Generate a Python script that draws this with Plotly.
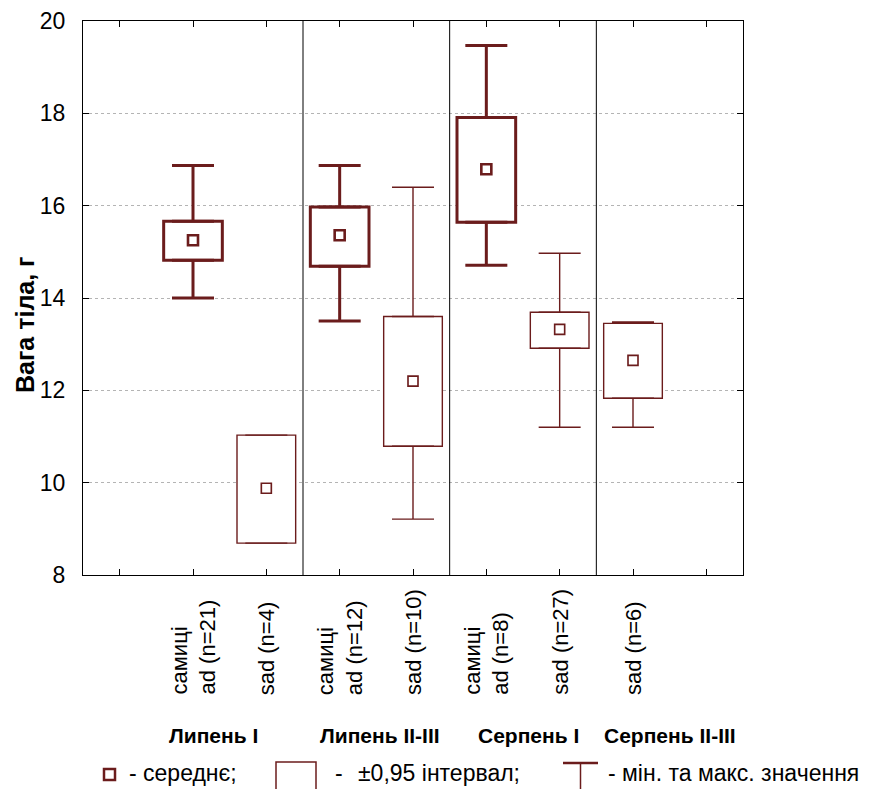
import plotly.graph_objects as go

# ---------------- data ----------------
group_labels = ["самиці<br>ad (n=21)", "sad (n=4)", "самиці<br>ad (n=12)", "sad (n=10)",
                "самиці<br>ad (n=8)", "sad (n=27)", "sad (n=6)"]
age_class = ["ad", "sad", "ad", "sad", "ad", "sad", "sad"]
means = [15.25, 9.88, 15.36, 12.20, 16.79, 13.32, 12.65]
ci_low = [14.82, 8.69, 14.69, 10.79, 15.64, 12.91, 11.83]
ci_high = [15.66, 11.03, 15.97, 13.60, 17.91, 13.69, 13.45]
mins = [14.00, None, 13.50, 9.21, 14.71, 11.20, 11.20]
maxs = [16.87, None, 16.87, 16.40, 19.47, 14.97, 13.48]
months = ["Липень I", "Липень II-III", "Серпень I", "Серпень II-III"]
month_group_counts = [2, 2, 2, 1]
y_title = "Вага тіла, г"

# ---------------- style ----------------
COLOR = "#6b1c1c"
FONT = "Liberation Sans, Arial, sans-serif"
W, H = 883, 789
ML, MR, MT, MB = 83, 140, 21, 214
PW, PH = W - ML - MR, H - MT - MB
BOX_W = 0.80
CAP_PX = 21
month_x = [1.28, 3.55, 5.58, 7.5]
LEG_FS = 23

positions = [i + 1 for i in range(len(group_labels))]
n_slots = len(group_labels) + 2


def px_x(p):
    return (p - ML) / PW


def px_y(p):
    return (H - MB - p) / PH


fig = go.Figure()

for cls, lw in (("ad", 3), ("sad", 1.4)):
    idx = [i for i, a in enumerate(age_class) if a == cls]
    xs = [positions[i] for i in idx]
    # CI boxes
    fig.add_trace(go.Bar(
        x=xs, base=[ci_low[i] for i in idx],
        y=[ci_high[i] - ci_low[i] for i in idx],
        width=BOX_W, marker=dict(color="rgba(255,255,255,1)", line=dict(color=COLOR, width=lw)),
        showlegend=False, hoverinfo="skip"))
    # upper whiskers (from box top to max)
    fig.add_trace(go.Scatter(
        x=xs, y=[ci_high[i] for i in idx], mode="markers",
        marker=dict(size=1, color="rgba(0,0,0,0)"),
        error_y=dict(type="data", symmetric=False,
                     array=[(maxs[i] - ci_high[i]) if maxs[i] is not None else None for i in idx],
                     arrayminus=[0 if maxs[i] is not None else None for i in idx],
                     color=COLOR, thickness=lw, width=CAP_PX),
        showlegend=False, hoverinfo="skip"))
    # lower whiskers (from box bottom to min)
    fig.add_trace(go.Scatter(
        x=xs, y=[ci_low[i] for i in idx], mode="markers",
        marker=dict(size=1, color="rgba(0,0,0,0)"),
        error_y=dict(type="data", symmetric=False,
                     array=[0 if mins[i] is not None else None for i in idx],
                     arrayminus=[(ci_low[i] - mins[i]) if mins[i] is not None else None for i in idx],
                     color=COLOR, thickness=lw, width=CAP_PX),
        showlegend=False, hoverinfo="skip"))
    # means
    fig.add_trace(go.Scatter(
        x=xs, y=[means[i] for i in idx], mode="markers",
        marker=dict(symbol="square-open", size=10, color=COLOR, line=dict(width=lw * 0.6 + 0.8)),
        showlegend=False, hoverinfo="skip"))

# section dividers between months
bounds = []
acc = 0
for c in month_group_counts[:-1]:
    acc += c
    bounds.append(acc + 0.5)
for b in bounds:
    fig.add_shape(type="line", xref="x", yref="paper", x0=b, x1=b, y0=0, y1=1,
                  line=dict(color="black", width=1))

# category labels (rotated, lines aligned at their start)
for lab, pos in zip(group_labels, positions):
    fig.add_annotation(x=pos, xref="x", y=px_y(697), yref="paper", text=lab,
                       textangle=-90, align="left", showarrow=False,
                       xanchor="center", yanchor="bottom",
                       font=dict(family=FONT, size=22, color="black"))

# month labels
for m, mx in zip(months, month_x):
    fig.add_annotation(x=mx, xref="x", y=px_y(735), yref="paper", text="<b>" + m + "</b>",
                       showarrow=False, font=dict(family=FONT, size=21, color="black"),
                       xanchor="center", yanchor="middle")

# y-axis title
fig.add_annotation(x=px_x(25), y=px_y(325), xref="paper", yref="paper",
                   text="<b>" + y_title + "</b>", textangle=-90, showarrow=False,
                   xanchor="center", yanchor="middle",
                   font=dict(family=FONT, size=25, color="black"))

# legend
LY = 773
fig.add_shape(type="rect", xref="paper", yref="paper",
              x0=px_x(104), x1=px_x(115), y0=px_y(780), y1=px_y(769),
              line=dict(color=COLOR, width=2.5), fillcolor="white")
fig.add_annotation(x=px_x(127), y=px_y(LY), xref="paper", yref="paper", text="- середнє;",
                   showarrow=False, xanchor="left", yanchor="middle",
                   font=dict(family=FONT, size=LEG_FS, color="black"))
fig.add_shape(type="rect", xref="paper", yref="paper",
              x0=px_x(276), x1=px_x(316), y0=px_y(800), y1=px_y(762),
              line=dict(color=COLOR, width=1.5), fillcolor="white")
fig.add_annotation(x=px_x(333), y=px_y(LY), xref="paper", yref="paper", text="-",
                   showarrow=False, xanchor="left", yanchor="middle",
                   font=dict(family=FONT, size=LEG_FS, color="black"))
fig.add_annotation(x=px_x(356), y=px_y(LY), xref="paper", yref="paper", text="±0,95 інтервал;",
                   showarrow=False, xanchor="left", yanchor="middle",
                   font=dict(family=FONT, size=LEG_FS, color="black"))
fig.add_shape(type="line", xref="paper", yref="paper",
              x0=px_x(563), x1=px_x(598), y0=px_y(763), y1=px_y(763),
              line=dict(color=COLOR, width=2.5))
fig.add_shape(type="line", xref="paper", yref="paper",
              x0=px_x(580.5), x1=px_x(580.5), y0=px_y(763), y1=px_y(800),
              line=dict(color=COLOR, width=1.5))
fig.add_annotation(x=px_x(606), y=px_y(LY), xref="paper", yref="paper",
                   text="- мін. та макс. значення",
                   showarrow=False, xanchor="left", yanchor="middle",
                   font=dict(family=FONT, size=LEG_FS, color="black"))

fig.update_layout(
    width=W, height=H,
    margin=dict(l=ML, r=MR, t=MT, b=MB, autoexpand=False),
    paper_bgcolor="white", plot_bgcolor="white",
    barmode="overlay", showlegend=False,
    font=dict(family=FONT, color="black"),
    xaxis=dict(range=[-0.5, n_slots - 0.5], tickmode="array",
               tickvals=list(range(n_slots)), ticktext=[""] * n_slots,
               ticks="inside", ticklen=6, tickcolor="black",
               showline=True, linecolor="black", linewidth=1, mirror="ticks",
               showgrid=False, zeroline=False, automargin=False),
    yaxis=dict(range=[8, 20], dtick=2, ticks="inside", ticklen=6, tickcolor="black",
               showline=True, linecolor="black", linewidth=1, mirror="ticks",
               showgrid=True, gridcolor="#b4b4b4", griddash="dot", gridwidth=1,
               zeroline=False, tickfont=dict(size=23, family=FONT),
               ticklabelstandoff=12, automargin=False),
)

fig.write_html("out.html", config={"displayModeBar": False},
               post_script="document.body.style.margin='0px';document.body.style.padding='0px';")
